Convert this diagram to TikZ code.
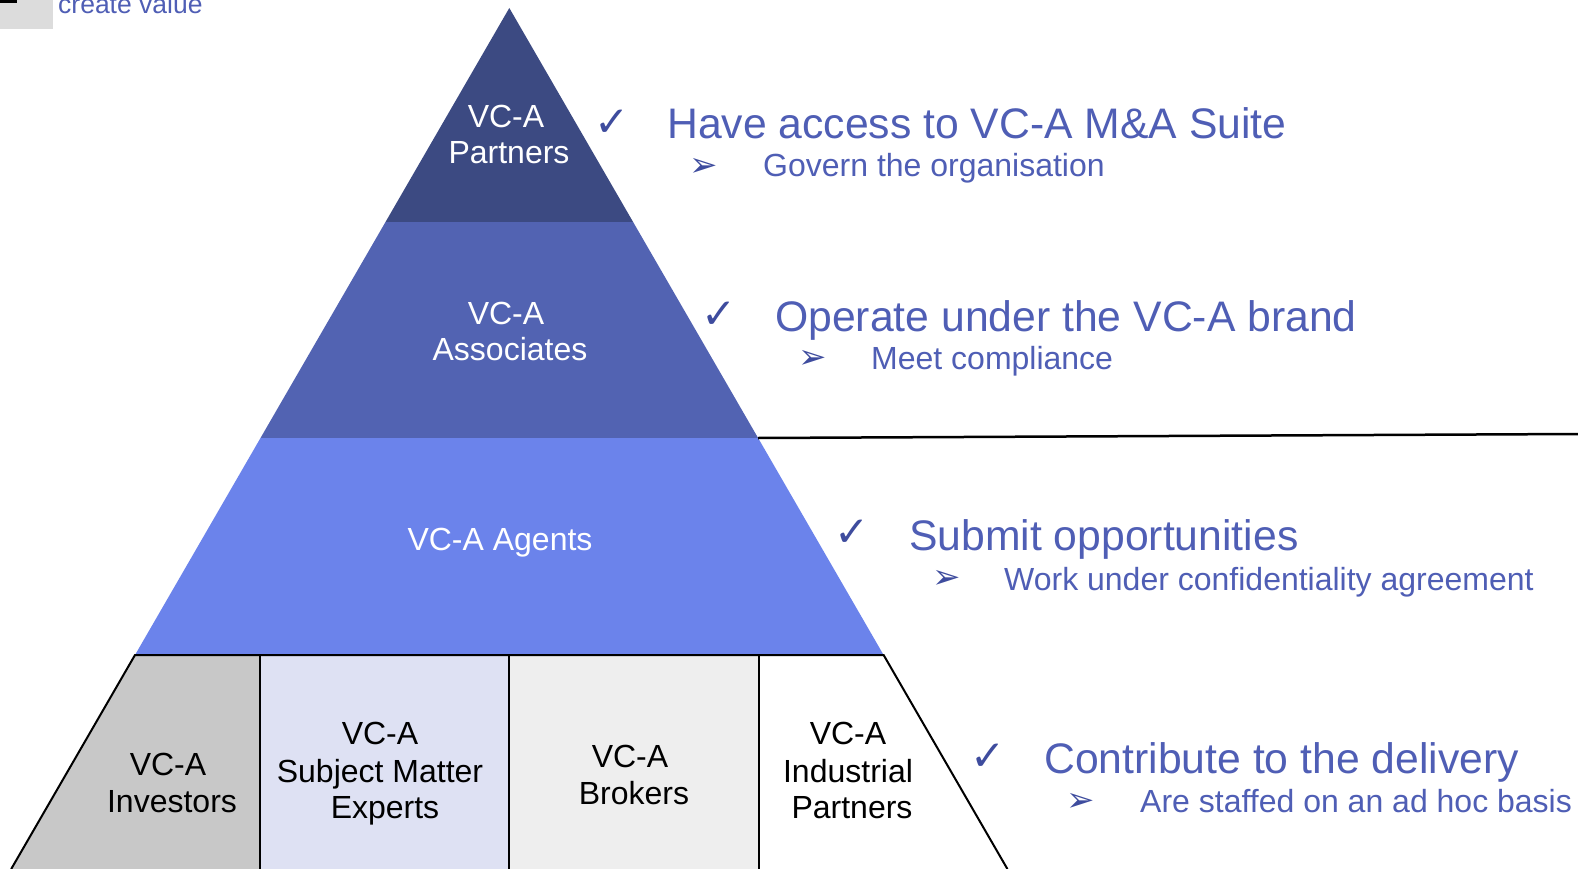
\documentclass[tikz,border=0pt]{standalone}
\usepackage{fontspec}
\setmainfont{Liberation Sans}
\newfontfamily\symfam{DejaVu Sans}
\definecolor{partc}{HTML}{3C4A82}
\definecolor{assocc}{HTML}{5263B2}
\definecolor{agentc}{HTML}{6B83EB}
\definecolor{invc}{HTML}{C8C8C8}
\definecolor{smec}{HTML}{DEE1F3}
\definecolor{brokc}{HTML}{EEEEEE}
\definecolor{tlgray}{HTML}{DCDCDC}
\definecolor{txtblue}{HTML}{4F5EB5}
\definecolor{chkblue}{HTML}{3E4C9E}
\tikzset{
  lbl/.style={inner sep=0, anchor=base, font=\fontsize{32}{36}\selectfont},
  wlbl/.style={lbl, text=white},
  blbl/.style={lbl, text=black},
  headtxt/.style={inner sep=0, anchor=base west, text=txtblue, font=\fontsize{42.7}{48}\selectfont},
  subtxt/.style={inner sep=0, anchor=base west, text=txtblue, font=\fontsize{32}{36}\selectfont},
  chk/.style={inner sep=0, anchor=center, text=chkblue, font=\symfam\bfseries\fontsize{42}{44}\selectfont},
  arr/.style={inner sep=0, anchor=center, text=chkblue, font=\symfam\fontsize{34}{36}\selectfont},
  outline/.style={line width=2pt, draw=black}
}
\begin{document}
\begin{tikzpicture}[x=1pt,y=-1pt]
\useasboundingbox (0,0) rectangle (1578,869);
\fill[white] (0,0) rectangle (1578,869);
\begin{scope}
\clip (0,0) rectangle (1578,869);
% top-left fragment
\fill[tlgray] (0,0) rectangle (53,29);
\fill[black] (0,0) rectangle (17,3);
\node[inner sep=0, anchor=base west, text=txtblue, font=\fontsize{26.5}{28}\selectfont] (cv) at (58,14) {create value};

% pyramid bands
\coordinate (apex) at (509.3,8);
\coordinate (l1) at (385.5,222);  \coordinate (r1) at (633.1,222);
\coordinate (l2) at (260.5,438);  \coordinate (r2) at (758.1,438);
\coordinate (l3) at (135,655);    \coordinate (r3) at (883.6,655);
\coordinate (l4) at (11.2,869);   \coordinate (r4) at (1007.4,869);
\fill[partc] (apex) -- (r1) -- (l1) -- cycle;
\fill[assocc] (l1) -- (r1) -- (r2) -- (l2) -- cycle;
\fill[agentc] (l2) -- (r2) -- (r3) -- (l3) -- cycle;

% bottom row
\coordinate (d1t) at (260,655);   \coordinate (d1b) at (260,869);
\coordinate (d2t) at (509.3,655); \coordinate (d2b) at (509.3,869);
\coordinate (d3t) at (758.5,655); \coordinate (d3b) at (758.5,869);
\fill[invc] (l3) -- (d1t) -- (d1b) -- (l4) -- cycle;
\fill[smec] (d1t) -- (d2t) -- (d2b) -- (d1b) -- cycle;
\fill[brokc] (d2t) -- (d3t) -- (d3b) -- (d2b) -- cycle;
\draw[outline] (l4) -- (l3) -- (r3) -- (r4);
\draw[outline] (d1t) -- (d1b);
\draw[outline] (d2t) -- (d2b);
\draw[outline] (d3t) -- (d3b);

% separator line
\coordinate (sepend) at (1578,434);
\draw[line width=2.5pt] (r2) -- (sepend);

% pyramid labels
\node[wlbl] (p1) at (506,128) {VC-A};
\node[wlbl] (p2) at (509,164) {Partners};
\node[wlbl] (a1) at (506,324) {VC-A};
\node[wlbl] (a2) at (510,360) {Associates};
\node[wlbl] (ag) at (500,550) {VC-A Agents};
\node[blbl] (i1) at (168,775) {VC-A};
\node[blbl] (i2) at (172,812) {Investors};
\node[blbl] (s1) at (380,744) {VC-A};
\node[blbl] (s2) at (380,782) {Subject Matter};
\node[blbl] (s3) at (385,818) {Experts};
\node[blbl] (b1) at (630,767) {VC-A};
\node[blbl] (b2) at (634,804) {Brokers};
\node[blbl] (n1) at (848,744) {VC-A};
\node[blbl] (n2) at (848,782) {Industrial};
\node[blbl] (n3) at (852,818) {Partners};

% right-hand texts
\node[chk] (c1) at (612,123) {✓};
\node[headtxt] (h1) at (667,139) {Have access to VC-A M\&A Suite};
\node[arr] (ar1) at (704,167) {➢};
\node[subtxt] (t1) at (763,177) {Govern the organisation};

\node[chk] (c2) at (719,315) {✓};
\node[headtxt] (h2) at (775,331) {Operate under the VC-A brand};
\node[arr] (ar2) at (813,359) {➢};
\node[subtxt] (t2) at (871,369) {Meet compliance};

\node[chk] (c3) at (852,533) {✓};
\node[headtxt] (h3) at (909,550) {Submit opportunities};
\node[arr] (ar3) at (947,579) {➢};
\node[subtxt] (t3) at (1004,590) {Work under confidentiality agreement};

\node[chk] (c4) at (988,757) {✓};
\node[headtxt] (h4) at (1044,773) {Contribute to the delivery};
\node[arr] (ar4) at (1081,802) {➢};
\node[subtxt] (t4) at (1140,812) {Are staffed on an ad hoc basis};
\end{scope}
\end{tikzpicture}
\end{document}
